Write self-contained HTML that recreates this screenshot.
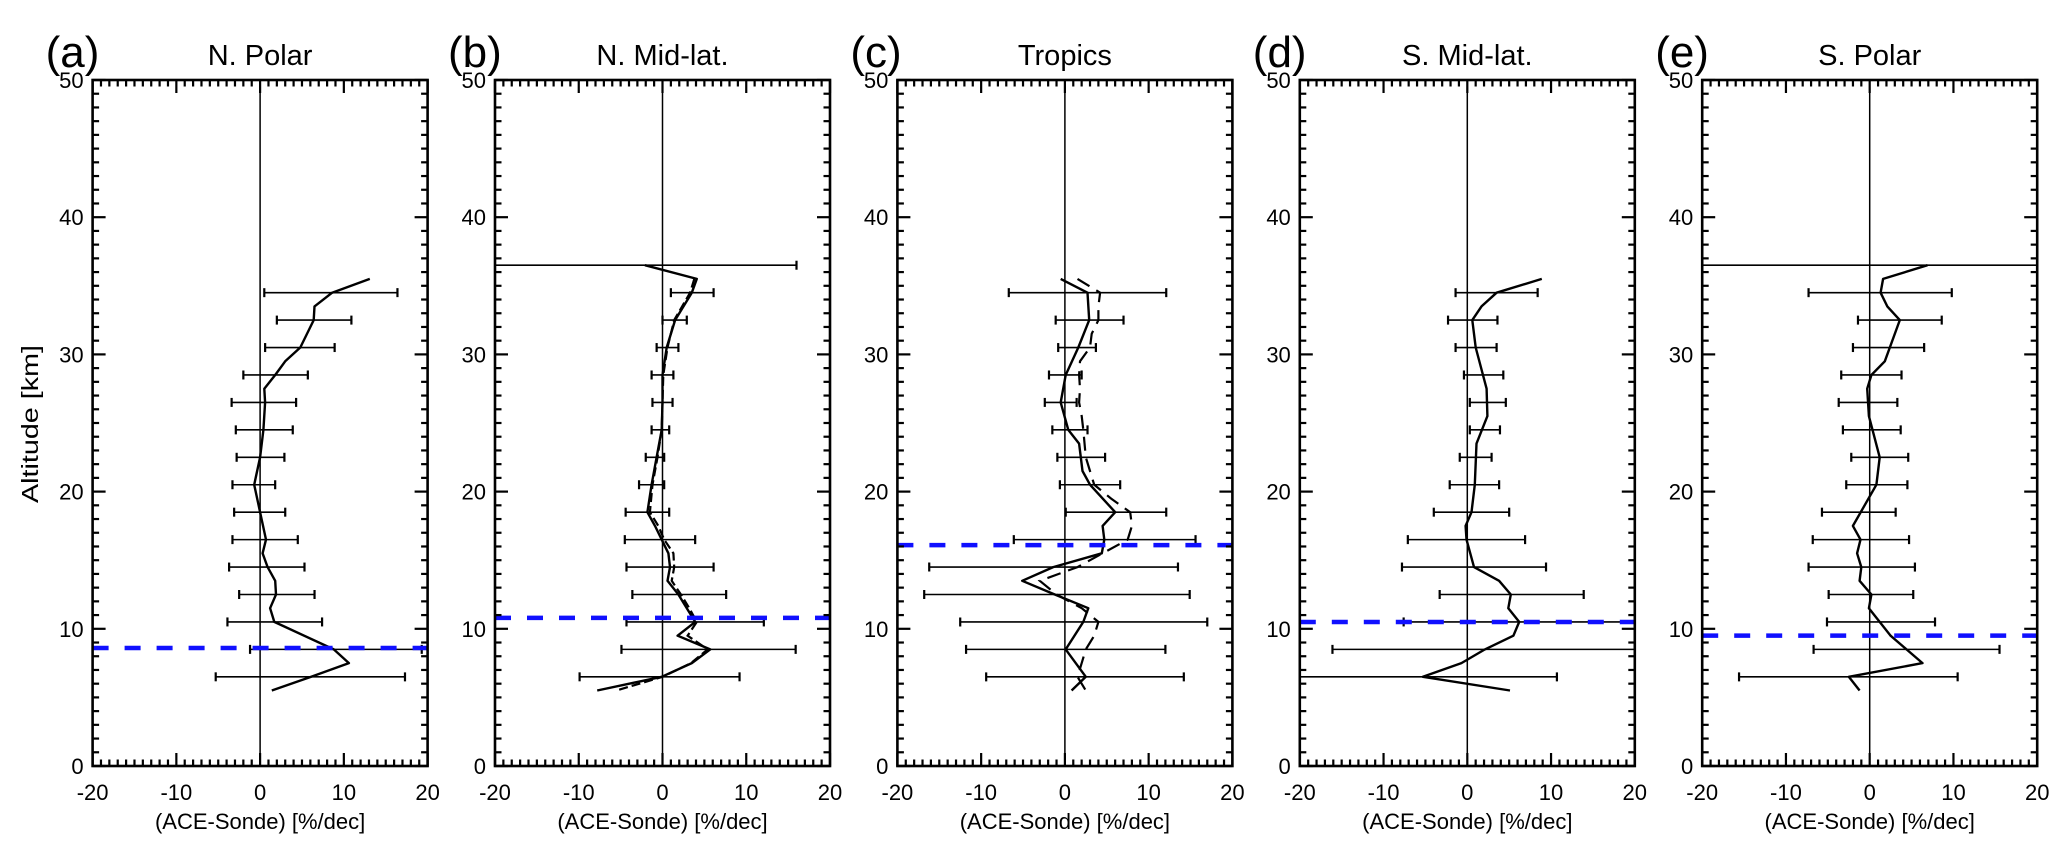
<!DOCTYPE html>
<html><head><meta charset="utf-8"><style>
html,body{margin:0;padding:0;background:#fff;}
svg{display:block;font-family:"Liberation Sans",sans-serif;}
</style></head><body>
<svg id="fig" width="2067" height="852" viewBox="0 0 2067 852"></svg>
<script>
const panelNames = ["N. Polar","N. Mid-lat.","Tropics","S. Mid-lat.","S. Polar"];
const panelLetters = ["(a)","(b)","(c)","(d)","(e)"];
const xTicks = [-20,-10,0,10,20];
const yTicks = [0,10,20,30,40,50];
const tropopause = [8.6,10.8,16.1,10.5,9.5];

const levels = [34.5,32.5,30.5,28.5,26.5,24.5,22.5,20.5,18.5,16.5,14.5,12.5,10.5,8.5,6.5];
const levelsTop = [36.5,34.5,32.5,30.5,28.5,26.5,24.5,22.5,20.5,18.5,16.5,14.5,12.5,10.5,8.5,6.5];

const aLo = [0.5,2.0,0.6,-2.0,-3.4,-2.9,-2.8,-3.3,-3.1,-3.3,-3.7,-2.5,-3.9,-1.2,-5.3];
const aHi = [16.4,10.9,8.9,5.7,4.3,3.9,2.9,1.8,3.0,4.5,5.3,6.5,7.4,19.3,17.3];
const bLo = [-20,1.0,0,-0.7,-1.3,-1.2,-1.3,-2.0,-2.8,-4.4,-4.5,-4.3,-3.6,-4.3,-4.9,-9.9];
const bHi = [16.0,6.1,2.9,1.9,1.3,1.2,0.8,0.2,0.2,0.8,3.9,6.1,7.6,12.1,15.9,9.2];
const cLo = [-6.7,-1.1,-0.8,-1.9,-2.4,-1.5,-0.9,-0.6,0.1,-6.1,-16.2,-16.8,-12.5,-11.8,-9.4];
const cHi = [12.1,7.0,3.7,2.0,1.4,2.7,4.8,6.6,12.1,15.6,13.5,14.9,17.0,12.0,14.2];
const dLo = [-1.4,-2.3,-1.4,-0.4,0.3,0.3,-0.9,-2.1,-4.0,-7.1,-7.8,-3.3,-7.6,-16.1,-20];
const dHi = [8.4,3.6,3.5,4.3,4.6,3.9,2.9,3.8,5.0,6.9,9.4,13.9,20,20,10.7];
const eLo = [-20,-7.3,-1.4,-2.0,-3.4,-3.7,-3.2,-2.2,-2.8,-5.7,-6.8,-7.3,-4.9,-5.1,-6.7,-15.6];
const eHi = [20,9.8,8.6,6.5,3.8,3.3,3.7,4.6,4.5,3.1,4.7,5.4,5.2,7.8,15.5,10.5];

const aLineAlt = [35.5,34.5,33.5,32.5,30.5,29.5,28.5,27.5,26.5,24.5,22.5,20.5,18.5,16.5,15.5,14.5,13.5,12.5,11.5,10.5,8.5,7.5,6.5,5.5];
const aLineVal = [13.1,8.6,6.5,6.4,4.8,3.0,1.8,0.5,0.6,0.4,0.0,-0.7,0,0.7,0.3,0.9,1.8,1.9,1.2,1.7,8.8,10.6,6.1,1.4];
const bLineAlt = [36.5,35.5,34.5,32.5,30.5,28.5,26.5,24.5,22.5,20.5,18.5,17.5,16.5,15.5,14.5,13.5,12.5,11.5,10.5,9.5,8.5,7.5,6.5,5.5];
const bLineVal = [-2.1,4.1,3.5,1.5,0.5,0,0,-0.1,-0.7,-1.3,-1.8,-0.9,-0.1,0.7,0.9,0.6,1.9,2.9,3.9,1.8,5.7,3.5,-0.1,-7.8];
const bDashAlt = [35.5,34.5,32.5,30.5,28.5,26.5,24.5,22.5,20.5,18.5,17.5,16.5,15.5,14.5,13.5,12.5,11.5,10.5,9.5,8.5,7.5,6.5,5.5];
const bDashVal = [3.8,3.3,1.4,0.6,0.1,0,-0.1,-0.6,-1.2,-1.5,-0.5,0.2,1.3,1.4,1.1,2.2,3.2,4.1,3.0,5.4,3.4,0.0,-5.5];
const cLineAlt = [35.5,34.5,32.5,30.5,28.5,26.5,24.5,23.5,21.5,20.5,18.5,17.5,16.5,15.5,14.5,13.5,12.5,11.5,10.5,8.5,6.5,5.5];
const cLineVal = [-0.5,2.7,2.9,1.6,0.1,-0.5,0.4,1.7,2.1,3.0,6.0,4.5,4.7,4.4,-1.4,-5.1,-1.2,2.8,2.2,0.1,2.5,0.8];
const cDashAlt = [35.5,34.5,33.5,32.5,31.5,30.5,29.5,28.5,27.5,26.5,25.5,24.5,22.5,20.5,19.5,18.5,17.5,16.5,15.5,14.5,13.5,12.5,11.5,10.5,9.5,8.5,7.5,6.5,5.5];
const cDashVal = [1.5,4.2,4.0,4.0,3.2,3.0,1.8,1.7,1.8,1.7,2.0,2.2,2.5,3.5,5.5,7.8,8.0,7.5,4.5,1.5,-3.0,-1.0,2.0,4.0,3.5,2.5,2.0,1.5,2.5];
const dLineAlt = [35.5,34.5,33.5,32.5,30.5,27.5,25.5,23.5,20.5,18.5,17.5,16.5,14.5,13.5,12.5,11.5,10.5,9.5,8.5,7.5,6.5,5.5];
const dLineVal = [8.9,3.5,1.7,0.6,1.0,2.3,2.4,1.1,0.9,0.5,-0.2,-0.1,0.8,3.8,5.2,4.9,6.2,5.5,2.1,-0.7,-5.3,5.1];
const eLineAlt = [36.5,35.5,34.5,33.5,32.5,29.5,28.5,27.5,25.5,22.5,20.5,17.5,16.5,15.5,14.5,13.5,12.5,11.5,9.5,7.5,6.5,5.5];
const eLineVal = [6.9,1.6,1.3,2.1,3.6,1.8,0.2,-0.3,-0.1,1.2,0.8,-2.0,-1.1,-1.5,-1.0,-1.2,0.2,-0.1,2.5,6.3,-2.5,-1.2];

const panels = [
  {barAlt:levels, lo:aLo, hi:aHi, la:aLineAlt, lv:aLineVal},
  {barAlt:levelsTop, lo:bLo, hi:bHi, la:bLineAlt, lv:bLineVal, da:bDashAlt, dv:bDashVal, dash:"9 4"},
  {barAlt:levels, lo:cLo, hi:cHi, la:cLineAlt, lv:cLineVal, da:cDashAlt, dv:cDashVal, dash:"14 8"},
  {barAlt:levels, lo:dLo, hi:dHi, la:dLineAlt, lv:dLineVal},
  {barAlt:levelsTop, lo:eLo, hi:eHi, la:eLineAlt, lv:eLineVal}
];

const NS = "http://www.w3.org/2000/svg";
const svg = document.getElementById("fig");
const L0 = 92.6, PITCH = 402.4, W = 335, TOP = 80, BOT = 766;
function mk(tag, attrs, parent){ const e=document.createElementNS(NS,tag); for(const k in attrs) e.setAttribute(k,attrs[k]); (parent||svg).appendChild(e); return e; }

const defs = mk("defs",{});
panels.forEach((p,i)=>{
  const left = L0 + PITCH*i;
  const xs = v => left + (v+20)/40*W;
  const ys = a => BOT - a/50*(BOT-TOP);
  const cp = mk("clipPath",{id:"clip"+i},defs);
  mk("rect",{x:left,y:TOP,width:W,height:BOT-TOP},cp);

  const g = mk("g",{});
  
  

  const lab = mk("text",{x:left-47,y:67,"font-size":44},g);
  lab.textContent = panelLetters[i];
  
  
  const ttl = mk("text",{x:xs(0),y:65,"font-size":29,"text-anchor":"middle"},g);
  ttl.textContent = panelNames[i];
  
  

  const plot = mk("g",{"clip-path":"url(#clip"+i+")"},g);
  
  
  const zl = mk("line",{x1:xs(0),x2:xs(0),y1:TOP,y2:BOT,stroke:"#000","stroke-width":1.5},plot);
  
  

  p.barAlt.forEach((a,k)=>{
    const y = ys(a), x1 = xs(p.lo[k]), x2 = xs(p.hi[k]);
    const eb = mk("g",{stroke:"#000","stroke-width":1.6},plot);
    
    
    mk("line",{x1:x1,x2:x2,y1:y,y2:y},eb);
    if(p.lo[k] > -19.9) mk("line",{x1:x1,x2:x1,y1:y-4.5,y2:y+4.5,"stroke-width":2.2},eb);
    if(p.hi[k] < 19.9) mk("line",{x1:x2,x2:x2,y1:y-4.5,y2:y+4.5,"stroke-width":2.2},eb);
  });

  if(p.da){
    const d = p.da.map((a,k)=>xs(p.dv[k]).toFixed(1)+","+ys(a).toFixed(1)).join(" ");
    const pl = mk("polyline",{points:d,fill:"none",stroke:"#000","stroke-width":2.2,"stroke-dasharray":p.dash},plot);
    
    
  }
  const pts = p.la.map((a,k)=>xs(p.lv[k]).toFixed(1)+","+ys(a).toFixed(1)).join(" ");
  const sl = mk("polyline",{points:pts,fill:"none",stroke:"#000","stroke-width":2.4,"stroke-linejoin":"round"},plot);
  
  

  const tp = mk("line",{x1:left,x2:left+W,y1:ys(tropopause[i]),y2:ys(tropopause[i]),stroke:"#1010ff","stroke-width":4.5,"stroke-dasharray":"16 16"},g);
  
  

  const ax = mk("g",{stroke:"#000"},g);
  
  
  mk("rect",{x:left,y:TOP,width:W,height:BOT-TOP,fill:"none","stroke-width":2.6},ax);
  for(let v=-20; v<=20; v++){
    const x = xs(v), len = (v%10===0)?13:6.5;
    mk("line",{x1:x,x2:x,y1:BOT,y2:BOT-len,"stroke-width":2.2},ax);
    mk("line",{x1:x,x2:x,y1:TOP,y2:TOP+len,"stroke-width":2.2},ax);
  }
  for(let a=0; a<=50; a++){
    const y = ys(a), len = (a%10===0)?13:6.5;
    mk("line",{x1:left,x2:left+len,y1:y,y2:y,"stroke-width":2.2},ax);
    mk("line",{x1:left+W,x2:left+W-len,y1:y,y2:y,"stroke-width":2.2},ax);
  }
  xTicks.forEach(v=>{
    const t = mk("text",{x:xs(v),y:800,"font-size":22,"text-anchor":"middle"},g);
    t.textContent = String(v);
    
    
  });
  yTicks.forEach(a=>{
    const t = mk("text",{x:left-9,y:ys(a)+8,"font-size":22,"text-anchor":"end"},g);
    t.textContent = String(a);
    
    
  });
  const xt = mk("text",{x:xs(0),y:829,"font-size":22,"text-anchor":"middle"},g);
  xt.textContent = "(ACE-Sonde) [%/dec]";
  
  
});
const yt = mk("text",{x:0,y:0,"font-size":23,"text-anchor":"middle",transform:"translate(38,424) rotate(-90)",textLength:158,lengthAdjust:"spacingAndGlyphs"});
yt.textContent = "Altitude [km]";


</script>
</body></html>
